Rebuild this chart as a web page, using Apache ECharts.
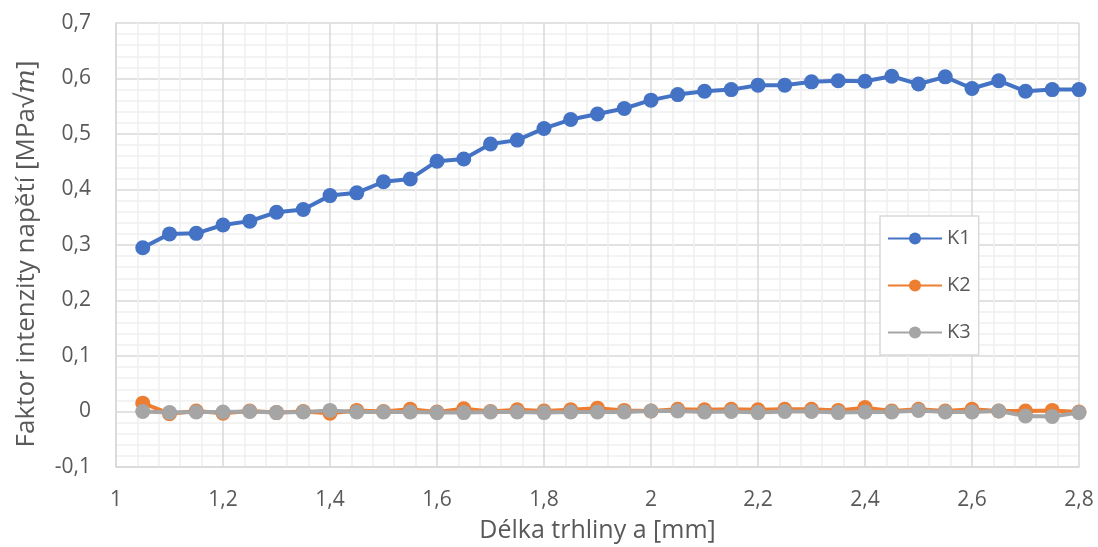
<!DOCTYPE html>
<html><head><meta charset="utf-8">
<script src="https://cdn.jsdelivr.net/npm/echarts@6/dist/echarts.min.js"></script>
<style>html,body{margin:0;padding:0;background:#fff}#c{width:1098px;height:547px}</style>
</head><body><div id="c"></div>
<script>
var xValues = [1.05,1.10,1.15,1.20,1.25,1.30,1.35,1.40,1.45,1.50,1.55,1.60,1.65,1.70,1.75,1.80,1.85,1.90,1.95,2.00,2.05,2.10,2.15,2.20,2.25,2.30,2.35,2.40,2.45,2.50,2.55,2.60,2.65,2.70,2.75,2.80];
var k1 = [0.295,0.320,0.321,0.336,0.343,0.359,0.364,0.389,0.394,0.414,0.419,0.451,0.455,0.482,0.489,0.510,0.526,0.536,0.546,0.561,0.571,0.577,0.580,0.588,0.588,0.594,0.596,0.595,0.604,0.590,0.603,0.582,0.596,0.577,0.580,0.580];
var k2 = [0.015,-0.004,0.001,-0.003,0.001,-0.002,0.000,-0.003,0.002,0.000,0.004,-0.001,0.005,0.000,0.003,0.001,0.003,0.006,0.002,0.001,0.004,0.003,0.004,0.003,0.004,0.004,0.002,0.007,0.001,0.004,0.001,0.004,0.001,0.001,0.002,-0.001];
var k3 = [0.000,-0.002,-0.001,-0.001,0.000,-0.002,-0.001,0.002,-0.001,-0.001,-0.001,-0.002,-0.002,-0.001,-0.001,-0.002,-0.001,-0.001,-0.001,0.001,0.001,-0.001,0.000,-0.002,0.000,0.000,-0.002,-0.001,-0.001,0.002,-0.001,-0.001,0.001,-0.008,-0.009,-0.002];
var seriesNames = ['K1','K2','K3'];
var colors = ['#4472C4','#ED7D31','#A5A5A5'];

function pairs(ys){ return xValues.map(function(x,i){ return [x, ys[i]]; }); }
function fmt(v){ return String(Math.round(v*10)/10).replace('.', ','); }

var chart = echarts.init(document.getElementById('c'));
var font = '"Open Sans", sans-serif';
var data = [k1,k2,k3];
chart.setOption({
  animation:false,
  textStyle:{fontFamily:font},
  grid:{left:116,right:19,top:23,bottom:80,containLabel:false,outerBoundsMode:'none'},
  legend:{
    orient:'vertical', left:880, top:216,
    padding:[12,8,12,7], itemGap:26, itemWidth:54, itemHeight:15,
    borderColor:'#d9d9d9', borderWidth:1.5, backgroundColor:'#fff',
    textStyle:{fontSize:20,lineHeight:21,color:'#595959',fontFamily:font},
    data:seriesNames
  },
  xAxis:{
    type:'value', min:1, max:2.8, interval:0.2,
    name:'Délka trhliny a [mm]', nameLocation:'middle', nameGap:51,
    nameTextStyle:{fontSize:25,color:'#595959',fontFamily:font},
    axisLine:{show:true,onZero:false,lineStyle:{color:'#d9d9d9',width:1.5}},
    axisTick:{show:false},
    axisLabel:{fontSize:21,color:'#595959',margin:23,formatter:fmt,fontFamily:font},
    splitLine:{show:true,lineStyle:{color:'#d9d9d9',width:1.5}},
    minorTick:{show:false,splitNumber:5},
    minorSplitLine:{show:true,lineStyle:{color:'#f0f0f0',width:1.5}}
  },
  yAxis:{
    type:'value', min:-0.1, max:0.7, interval:0.1,
    name:'{a|Faktor intenzity napětí [MPa√}{b|m}{a|]}', nameLocation:'middle', nameGap:76,
    nameTextStyle:{padding:[0,18,0,0],rich:{a:{fontSize:26,color:'#595959',fontFamily:font},b:{fontSize:26,color:'#595959',fontStyle:'italic',fontFamily:'"DejaVu Serif", serif'}}},
    axisLine:{show:true,lineStyle:{color:'#d9d9d9',width:1.5}},
    axisTick:{show:false},
    axisLabel:{fontSize:21,color:'#595959',margin:25,formatter:fmt,fontFamily:font},
    splitLine:{show:true,lineStyle:{color:'#d9d9d9',width:1.5}},
    minorTick:{show:false,splitNumber:5},
    minorSplitLine:{show:true,lineStyle:{color:'#f0f0f0',width:1.5}}
  },
  series: seriesNames.map(function(n,i){
    return {
      name:n, type:'line', data:pairs(data[i]),
      symbol:'circle', symbolSize:15,
      lineStyle:{color:colors[i],width:4},
      itemStyle:{color:colors[i]},
      emphasis:{disabled:true}
    };
  })
});
</script></body></html>
